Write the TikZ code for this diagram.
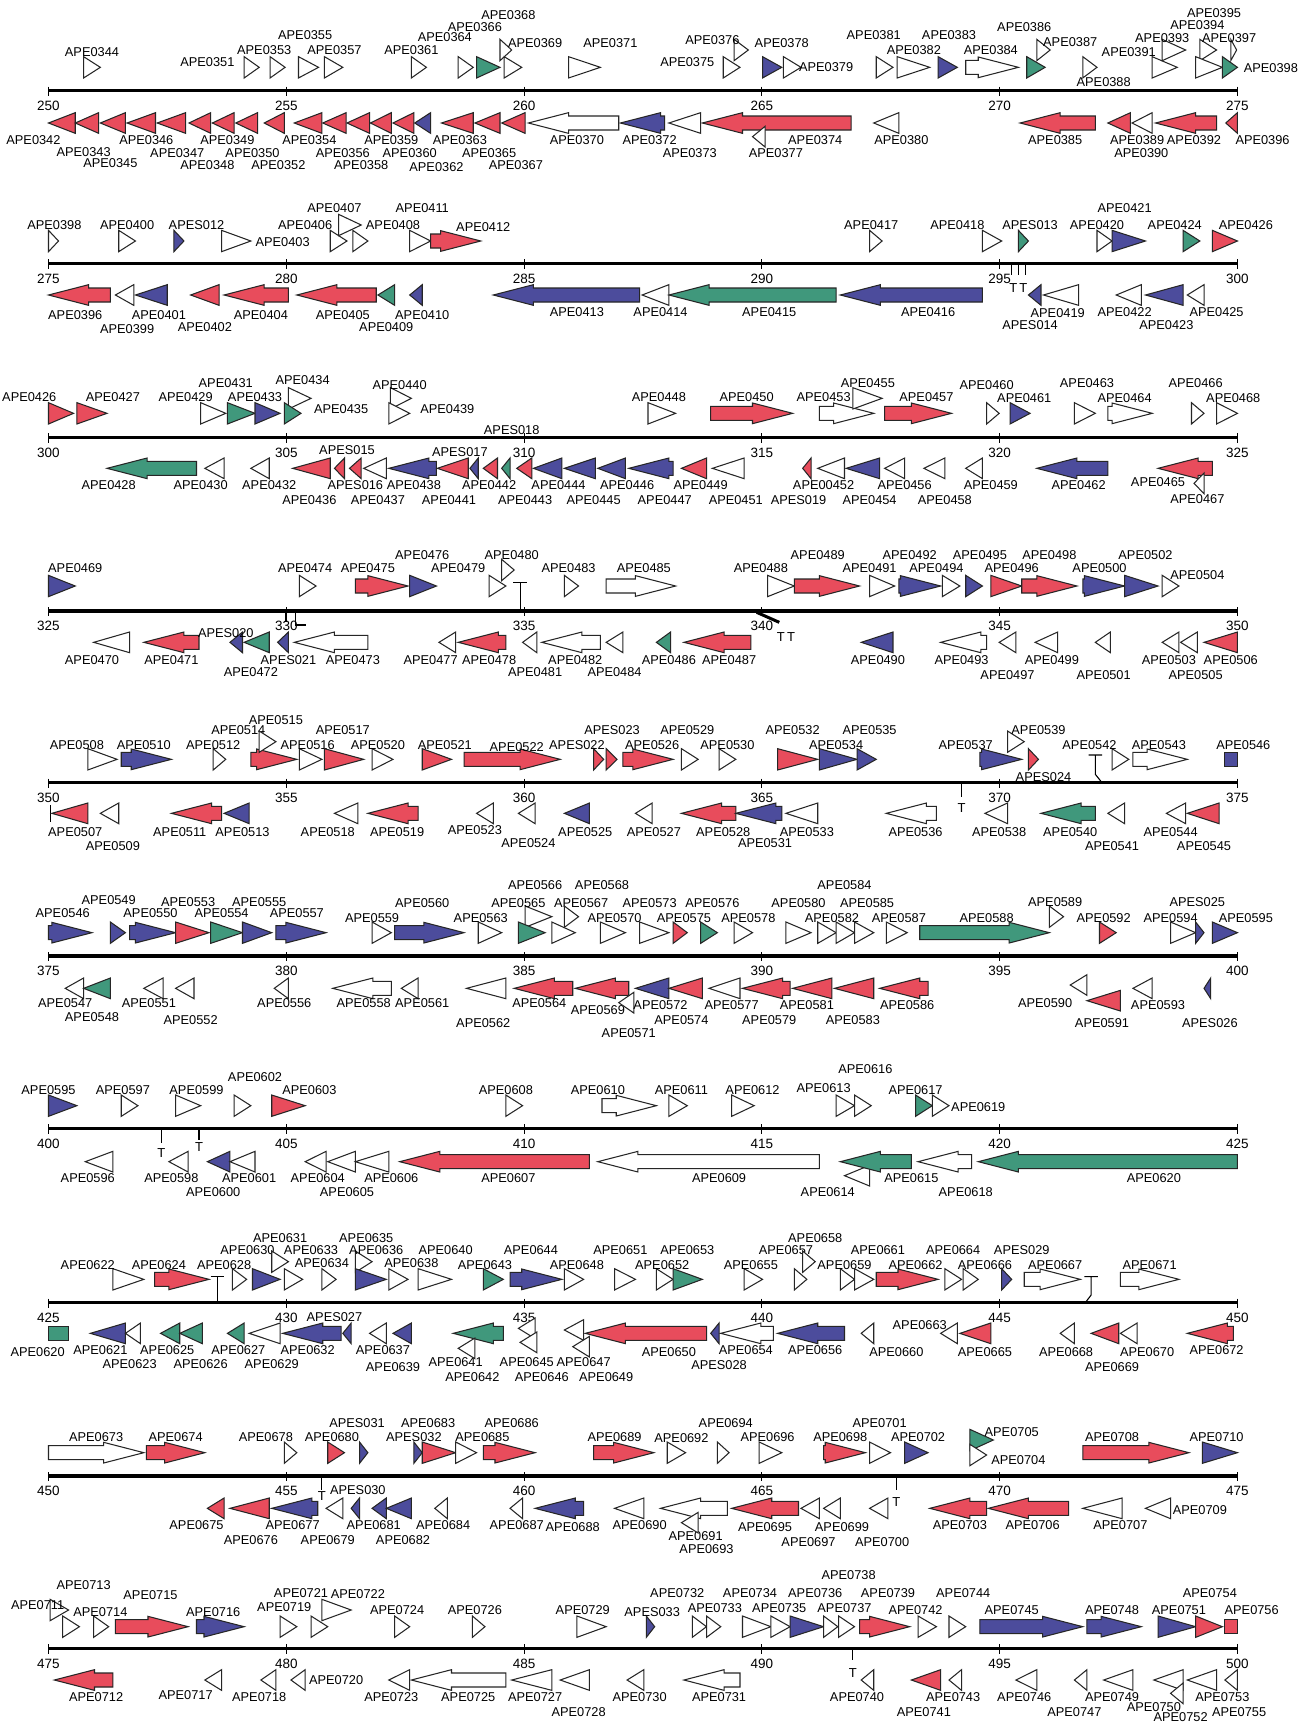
\documentclass[tikz,border=0pt]{standalone}
\usepackage{fontspec}
\setmainfont{Liberation Sans}
\definecolor{cR}{RGB}{232,76,92}
\definecolor{cB}{RGB}{76,76,156}
\definecolor{cG}{RGB}{64,152,124}
\definecolor{cW}{RGB}{255,255,255}
\tikzset{
  gene/.style={draw=black!85,line width=1.05pt,line join=miter},
  lab/.style={font=\fontsize{12.8}{13}\selectfont,inner sep=0pt},
  ticklab/.style={font=\fontsize{13.5}{14}\selectfont,inner sep=0pt},
  axisline/.style={line width=3.2pt},
  termtext/.style={font=\fontsize{13}{13}\selectfont,inner sep=0pt},
  termline/.style={line width=1.1pt}
}
\newcommand\hdl{48}
\newcommand\FG[4][\dfy]{%
  \pgfmathtruncatemacro\gtmp{(#3-#2)>\hdl?1:0}%
  \ifnum\gtmp=1\relax
    \draw[gene,fill=#4] (#2,{#1-21}) -- ({#3-\hdl},{#1-21}) -- ({#3-\hdl},{#1-31}) -- (#3,#1) -- ({#3-\hdl},{#1+31}) -- ({#3-\hdl},{#1+21}) -- (#2,{#1+21}) -- cycle;
  \else
    \draw[gene,fill=#4] (#2,{#1-32}) -- (#3,#1) -- (#2,{#1+32}) -- cycle;
  \fi}
\newcommand\RG[4][\dry]{%
  \pgfmathtruncatemacro\gtmp{(#3-#2)>\hdl?1:0}%
  \ifnum\gtmp=1\relax
    \draw[gene,fill=#4] (#3,{#1-21}) -- ({#2+\hdl},{#1-21}) -- ({#2+\hdl},{#1-31}) -- (#2,#1) -- ({#2+\hdl},{#1+31}) -- ({#2+\hdl},{#1+21}) -- (#3,{#1+21}) -- cycle;
  \else
    \draw[gene,fill=#4] (#3,{#1-31}) -- (#2,#1) -- (#3,{#1+31}) -- cycle;
  \fi}
\newcommand\Bx[4]{\draw[gene,fill=#4] (#1,{#3-21}) rectangle (#2,{#3+21});}
\newcommand\Lb[3]{\node[lab] (r\rown-#3) at (#1,#2) {#3};}
\newcommand\axisrow[2]{%
  \draw[axisline] (58,#1) -- (1480,#1);
  \foreach \i in {0,...,5}{%
    \draw[termline] ({58+284.4*\i},{#1-12}) -- ({58+284.4*\i},{#1+16});
    \pgfmathtruncatemacro\v{#2+5*\i}
    \node[ticklab] (tk\rown-\i) at ({58+284.4*\i},{#1+46}) {\v};}}
\newcommand\Tm[3]{\node[termtext] (t\rown-#3) at (#1,#2) {T};}
\begin{document}
\begin{tikzpicture}[x=0.83612pt,y=-1pt]
\useasboundingbox (0,0) rectangle (1559.6,1727);
\fill[white] (0,0) rectangle (1559.6,1727);

% ---------------- Row 1 ----------------
\begin{scope}[shift={(0,0)},y={(0pt,-0.33333pt)}]
\def\rown{1}\def\dfy{202}\def\dry{369}\def\dfu{150}\def\drl{410}
\axisrow{272}{250}
\FG{100}{120}{cW}\Lb{110}{155}{APE0344}
\FG{292}{310}{cW}\Lb{248}{185}{APE0351}
\FG{323}{341}{cW}\Lb{316}{150}{APE0353}
\FG{357}{381}{cW}\Lb{365}{105}{APE0355}
\FG{388}{410}{cW}\Lb{400}{150}{APE0357}
\FG{492}{510}{cW}\Lb{492}{150}{APE0361}
\FG{548}{566}{cW}\Lb{532}{112}{APE0364}
\FG{570}{598}{cG}\Lb{568}{80}{APE0366}
\FG[\dfu]{598}{612}{cW}\Lb{608}{45}{APE0368}
\FG{603}{624}{cW}\Lb{640}{130}{APE0369}
\FG{680}{718}{cW}\Lb{730}{130}{APE0371}
\FG{865}{885}{cW}\Lb{822}{185}{APE0375}
\FG[\dfu]{878}{895}{cW}\Lb{852}{120}{APE0376}
\FG{912}{935}{cB}\Lb{935}{130}{APE0378}
\FG{937}{958}{cW}\Lb{988}{200}{APE0379}
\FG{1048}{1068}{cW}\Lb{1045}{105}{APE0381}
\FG{1073}{1112}{cW}\Lb{1093}{150}{APE0382}
\FG{1122}{1145}{cB}\Lb{1135}{105}{APE0383}
\FG{1155}{1218}{cW}\Lb{1185}{150}{APE0384}
\FG{1228}{1250}{cG}\Lb{1225}{80}{APE0386}
\FG[\dfu]{1240}{1256}{cW}\Lb{1280}{125}{APE0387}
\FG{1295}{1312}{cW}\Lb{1320}{245}{APE0388}
\FG{1378}{1408}{cW}\Lb{1350}{155}{APE0391}
\FG[\dfu]{1390}{1418}{cW}\Lb{1390}{115}{APE0393}
\FG[\dfu]{1435}{1455}{cW}\Lb{1432}{75}{APE0394}
\FG{1430}{1462}{cW}\Lb{1452}{40}{APE0395}
\FG[\dfu]{1472}{1479}{cW}\Lb{1470}{115}{APE0397}
\FG{1462}{1480}{cG}\Lb{1520}{205}{APE0398}
\RG{58}{90}{cR}\Lb{40}{420}{APE0342}
\RG{90}{118}{cR}\Lb{100}{455}{APE0343}
\RG{120}{150}{cR}\Lb{132}{490}{APE0345}
\RG{152}{186}{cR}\Lb{175}{420}{APE0346}
\RG{188}{222}{cR}\Lb{212}{460}{APE0347}
\RG{226}{252}{cR}\Lb{248}{495}{APE0348}
\RG{254}{280}{cR}\Lb{272}{420}{APE0349}
\RG{282}{308}{cR}\Lb{302}{460}{APE0350}
\RG{316}{340}{cR}\Lb{333}{495}{APE0352}
\RG{352}{385}{cR}\Lb{370}{420}{APE0354}
\RG{386}{414}{cR}\Lb{410}{460}{APE0356}
\RG{415}{442}{cR}\Lb{432}{495}{APE0358}
\RG{443}{468}{cR}\Lb{468}{420}{APE0359}
\RG{470}{495}{cR}\Lb{490}{460}{APE0360}
\RG{496}{515}{cB}\Lb{522}{500}{APE0362}
\RG{528}{566}{cR}\Lb{550}{420}{APE0363}
\RG{568}{598}{cR}\Lb{585}{460}{APE0365}
\RG{600}{628}{cR}\Lb{617}{495}{APE0367}
\RG{632}{740}{cW}\Lb{690}{420}{APE0370}
\RG{742}{795}{cB}\Lb{777}{420}{APE0372}
\RG{800}{838}{cW}\Lb{825}{460}{APE0373}
\RG{840}{1018}{cR}\Lb{975}{420}{APE0374}
\RG[\drl]{900}{915}{cW}\Lb{928}{460}{APE0377}
\RG{1045}{1075}{cW}\Lb{1078}{420}{APE0380}
\RG{1220}{1310}{cR}\Lb{1262}{420}{APE0385}
\RG{1325}{1352}{cR}\Lb{1360}{420}{APE0389}
\RG{1354}{1378}{cW}\Lb{1365}{460}{APE0390}
\RG{1382}{1455}{cR}\Lb{1428}{420}{APE0392}
\RG{1466}{1480}{cR}\Lb{1510}{420}{APE0396}
\end{scope}

% ---------------- Row 2 ----------------
\begin{scope}[shift={(0,175)},y={(0pt,-0.33333pt)}]
\def\rown{2}\def\dfy{198}\def\dry{360}\def\dfu{150}\def\drl{400}
\axisrow{265}{275}
\FG{58}{70}{cW}\Lb{65}{150}{APE0398}
\FG{142}{162}{cW}\Lb{152}{150}{APE0400}
\FG{208}{220}{cB}\Lb{235}{150}{APES012}
\FG{265}{300}{cW}\Lb{338}{200}{APE0403}
\FG{395}{415}{cW}\Lb{365}{150}{APE0406}
\FG[\dfu]{405}{432}{cW}\Lb{400}{100}{APE0407}
\FG{422}{440}{cW}\Lb{470}{150}{APE0408}
\FG{490}{515}{cW}\Lb{505}{100}{APE0411}
\FG{515}{575}{cR}\Lb{578}{155}{APE0412}
\FG{1040}{1055}{cW}\Lb{1042}{150}{APE0417}
\FG{1175}{1198}{cW}\Lb{1145}{150}{APE0418}
\FG{1218}{1230}{cG}\Lb{1232}{150}{APES013}
\FG{1312}{1330}{cW}\Lb{1312}{150}{APE0420}
\FG{1330}{1370}{cB}\Lb{1345}{100}{APE0421}
\FG{1415}{1435}{cG}\Lb{1405}{150}{APE0424}
\FG{1450}{1480}{cR}\Lb{1490}{150}{APE0426}
\RG{58}{132}{cR}\Lb{90}{420}{APE0396}
\RG{138}{160}{cW}\Lb{152}{462}{APE0399}
\RG{162}{200}{cB}\Lb{190}{420}{APE0401}
\RG{228}{262}{cR}\Lb{245}{455}{APE0402}
\RG{268}{345}{cR}\Lb{312}{420}{APE0404}
\RG{355}{450}{cR}\Lb{410}{420}{APE0405}
\RG{452}{472}{cG}\Lb{462}{455}{APE0409}
\RG{490}{505}{cB}\Lb{505}{420}{APE0410}
\RG{590}{765}{cB}\Lb{690}{410}{APE0413}
\RG{768}{800}{cW}\Lb{790}{410}{APE0414}
\RG{800}{1000}{cG}\Lb{920}{410}{APE0415}
\RG{1005}{1175}{cB}\Lb{1110}{410}{APE0416}
\RG{1230}{1245}{cB}\Lb{1232}{450}{APES014}
\RG{1248}{1290}{cW}\Lb{1265}{415}{APE0419}
\RG{1335}{1365}{cW}\Lb{1345}{410}{APE0422}
\RG{1370}{1415}{cB}\Lb{1395}{450}{APE0423}
\RG{1420}{1440}{cW}\Lb{1455}{410}{APE0425}
\draw[termline] (1210,265) -- (1210,300) (1218,265) -- (1218,300) (1226,265) -- (1226,300);
\Tm{1212}{338}{a}\Tm{1224}{338}{b}
\end{scope}

% ---------------- Row 3 ----------------
\begin{scope}[shift={(0,350)},y={(0pt,-0.33333pt)}]
\def\rown{3}\def\dfy{190}\def\dry{355}\def\dfu{145}\def\drl{400}
\axisrow{262}{300}
\FG{58}{88}{cR}\Lb{35}{140}{APE0426}
\FG{92}{128}{cR}\Lb{135}{140}{APE0427}
\FG{240}{270}{cW}\Lb{222}{140}{APE0429}
\FG{272}{305}{cG}\Lb{270}{100}{APE0431}
\FG{305}{335}{cB}\Lb{305}{140}{APE0433}
\FG[\dfu]{345}{372}{cW}\Lb{362}{90}{APE0434}
\FG{340}{360}{cG}\Lb{408}{178}{APE0435}
\FG[\dfu]{467}{492}{cW}\Lb{478}{105}{APE0440}
\FG{465}{490}{cW}\Lb{535}{178}{APE0439}
\FG{775}{808}{cW}\Lb{788}{140}{APE0448}
\FG{850}{948}{cR}\Lb{893}{140}{APE0450}
\FG{980}{1045}{cW}\Lb{985}{140}{APE0453}
\FG[\dfu]{1020}{1055}{cW}\Lb{1038}{100}{APE0455}
\FG{1058}{1138}{cR}\Lb{1108}{140}{APE0457}
\FG{1180}{1195}{cW}\Lb{1180}{105}{APE0460}
\FG{1208}{1232}{cB}\Lb{1225}{145}{APE0461}
\FG{1285}{1310}{cW}\Lb{1300}{100}{APE0463}
\FG{1325}{1378}{cW}\Lb{1345}{145}{APE0464}
\FG{1425}{1440}{cW}\Lb{1430}{100}{APE0466}
\FG{1455}{1480}{cW}\Lb{1475}{145}{APE0468}
\Lb{612}{240}{APES018}
\RG{128}{235}{cG}\Lb{130}{405}{APE0428}
\RG{245}{268}{cW}\Lb{240}{405}{APE0430}
\RG{300}{322}{cW}\Lb{322}{405}{APE0432}
\RG{350}{395}{cR}\Lb{370}{450}{APE0436}
\RG{400}{412}{cR}\Lb{415}{300}{APES015}
\RG{418}{432}{cR}\Lb{425}{405}{APES016}
\RG{435}{462}{cW}\Lb{452}{450}{APE0437}
\RG{465}{522}{cB}\Lb{495}{405}{APE0438}
\RG{523}{560}{cR}\Lb{537}{450}{APE0441}
\RG{562}{572}{cB}\Lb{550}{305}{APES017}
\RG{578}{595}{cR}\Lb{585}{405}{APE0442}
\RG{600}{610}{cG}
\RG{618}{636}{cR}\Lb{628}{450}{APE0443}
\RG{638}{672}{cB}\Lb{668}{405}{APE0444}
\RG{675}{712}{cB}\Lb{710}{450}{APE0445}
\RG{715}{748}{cB}\Lb{750}{405}{APE0446}
\RG{752}{805}{cB}\Lb{795}{450}{APE0447}
\RG{815}{845}{cR}\Lb{838}{405}{APE0449}
\RG{852}{890}{cW}\Lb{880}{450}{APE0451}
\RG{960}{970}{cR}\Lb{955}{450}{APES019}
\RG{978}{1010}{cW}\Lb{985}{405}{APE00452}
\RG{1012}{1052}{cB}\Lb{1040}{450}{APE0454}
\RG{1058}{1082}{cW}\Lb{1082}{405}{APE0456}
\RG{1105}{1130}{cW}\Lb{1130}{450}{APE0458}
\RG{1155}{1175}{cW}\Lb{1185}{405}{APE0459}
\RG{1240}{1325}{cB}\Lb{1290}{405}{APE0462}
\RG{1385}{1450}{cR}\Lb{1385}{397}{APE0465}
\RG[\drl]{1428}{1440}{cW}\Lb{1432}{447}{APE0467}
\end{scope}

% ---------------- Row 4 ----------------
\begin{scope}[shift={(0,525)},y={(0pt,-0.33333pt)}]
\def\rown{4}\def\dfy{183}\def\dry{352}\def\dfu{135}\def\drl{395}
\axisrow{258}{325}
\FG{58}{90}{cB}\Lb{90}{130}{APE0469}
\FG{358}{378}{cW}\Lb{365}{130}{APE0474}
\FG{425}{488}{cR}\Lb{440}{130}{APE0475}
\FG{490}{522}{cB}\Lb{505}{90}{APE0476}
\FG{585}{605}{cW}\Lb{548}{130}{APE0479}
\FG[\dfu]{600}{615}{cW}\Lb{612}{90}{APE0480}
\draw[termline] (622,258) -- (622,172) (614,172) -- (630,172);
\FG{675}{692}{cW}\Lb{680}{130}{APE0483}
\FG{725}{808}{cW}\Lb{770}{130}{APE0485}
\FG{918}{950}{cW}\Lb{910}{130}{APE0488}
\FG{950}{1028}{cR}\Lb{978}{90}{APE0489}
\FG{1040}{1070}{cW}\Lb{1040}{130}{APE0491}
\FG{1075}{1125}{cB}\Lb{1088}{90}{APE0492}
\FG{1127}{1148}{cW}\Lb{1120}{130}{APE0494}
\FG{1155}{1175}{cB}\Lb{1172}{90}{APE0495}
\FG{1185}{1222}{cR}\Lb{1210}{130}{APE0496}
\FG{1222}{1288}{cR}\Lb{1255}{90}{APE0498}
\FG{1295}{1345}{cB}\Lb{1315}{130}{APE0500}
\FG{1345}{1385}{cB}\Lb{1370}{90}{APE0502}
\FG{1390}{1410}{cW}\Lb{1432}{150}{APE0504}
\RG{112}{155}{cW}\Lb{110}{405}{APE0470}
\RG{172}{238}{cR}\Lb{205}{405}{APE0471}
\RG{275}{290}{cB}\Lb{270}{325}{APES020}
\RG{292}{322}{cG}\Lb{300}{440}{APE0472}
\RG{332}{345}{cB}\Lb{345}{405}{APES021}
\RG{352}{440}{cW}\Lb{422}{405}{APE0473}
\draw[termline] (342,258) -- (342,290) (353,258) -- (353,300) -- (366,300);
\RG{525}{545}{cW}\Lb{515}{405}{APE0477}
\RG{548}{605}{cR}\Lb{585}{405}{APE0478}
\RG{625}{642}{cW}\Lb{640}{440}{APE0481}
\RG{648}{718}{cW}\Lb{688}{405}{APE0482}
\RG{725}{745}{cW}\Lb{735}{440}{APE0484}
\RG{785}{802}{cG}\Lb{800}{405}{APE0486}
\RG{818}{898}{cR}\Lb{872}{405}{APE0487}
\draw[line width=3pt] (905,262) -- (932,292);
\Tm{934}{335}{a}\Tm{946}{335}{b}
\RG{1030}{1068}{cB}\Lb{1050}{405}{APE0490}
\RG{1125}{1180}{cW}\Lb{1150}{405}{APE0493}
\RG{1195}{1215}{cW}\Lb{1205}{450}{APE0497}
\RG{1238}{1265}{cW}\Lb{1258}{405}{APE0499}
\RG{1310}{1328}{cW}\Lb{1320}{450}{APE0501}
\RG{1390}{1410}{cW}\Lb{1398}{405}{APE0503}
\RG{1412}{1432}{cW}\Lb{1430}{450}{APE0505}
\RG{1440}{1480}{cR}\Lb{1472}{405}{APE0506}
\end{scope}

% ---------------- Row 5 ----------------
\begin{scope}[shift={(0,695)},y={(0pt,-0.33333pt)}]
\def\rown{5}\def\dfy{193}\def\dry{355}\def\dfu{140}\def\drl{400}
\axisrow{263}{350}
\FG{105}{140}{cW}\Lb{92}{150}{APE0508}
\FG{145}{205}{cB}\Lb{172}{150}{APE0510}
\FG{255}{270}{cW}\Lb{255}{150}{APE0512}
\FG{300}{355}{cR}\Lb{285}{105}{APE0514}
\FG[\dfu]{310}{330}{cW}\Lb{330}{75}{APE0515}
\FG{358}{385}{cW}\Lb{368}{150}{APE0516}
\FG{388}{435}{cR}\Lb{410}{105}{APE0517}
\FG{445}{470}{cW}\Lb{452}{150}{APE0520}
\FG{505}{540}{cR}\Lb{532}{150}{APE0521}
\FG{555}{670}{cR}\Lb{618}{155}{APE0522}
\FG{710}{722}{cR}\Lb{690}{150}{APES022}
\FG{725}{738}{cR}\Lb{732}{105}{APES023}
\FG{745}{805}{cR}\Lb{780}{150}{APE0526}
\FG{815}{835}{cW}\Lb{822}{105}{APE0529}
\FG{860}{880}{cW}\Lb{870}{150}{APE0530}
\FG{930}{978}{cR}\Lb{948}{105}{APE0532}
\FG{980}{1025}{cB}\Lb{1000}{150}{APE0534}
\FG{1025}{1048}{cB}\Lb{1040}{105}{APE0535}
\FG{1172}{1222}{cB}\Lb{1155}{150}{APE0537}
\FG[\dfu]{1205}{1225}{cW}\Lb{1242}{105}{APE0539}
\FG{1230}{1242}{cR}\Lb{1248}{245}{APES024}
\draw[termline] (1318,263) -- (1310,238) -- (1310,180) (1302,180) -- (1318,180);
\FG{1330}{1350}{cW}\Lb{1303}{150}{APE0542}
\FG{1355}{1420}{cW}\Lb{1386}{150}{APE0543}
\Bx{1465}{1480}{\dfy}{cB}\Lb{1487}{150}{APE0546}
\draw[termline] (60,330) -- (60,382);
\RG{62}{105}{cR}\Lb{90}{410}{APE0507}
\RG{120}{142}{cW}\Lb{135}{452}{APE0509}
\RG{205}{265}{cR}\Lb{215}{410}{APE0511}
\RG{268}{298}{cB}\Lb{290}{410}{APE0513}
\RG{400}{428}{cW}\Lb{392}{410}{APE0518}
\RG{440}{500}{cR}\Lb{475}{410}{APE0519}
\RG{570}{590}{cW}\Lb{568}{405}{APE0523}
\RG{620}{640}{cW}\Lb{632}{445}{APE0524}
\RG{675}{705}{cB}\Lb{700}{410}{APE0525}
\RG{760}{780}{cW}\Lb{782}{410}{APE0527}
\RG{815}{880}{cR}\Lb{865}{410}{APE0528}
\RG{880}{935}{cB}\Lb{915}{445}{APE0531}
\RG{940}{978}{cW}\Lb{965}{410}{APE0533}
\RG{1060}{1120}{cW}\Lb{1095}{410}{APE0536}
\draw[termline] (1150,263) -- (1150,305);
\Tm{1150}{338}{a}
\RG{1178}{1205}{cW}\Lb{1195}{410}{APE0538}
\RG{1245}{1310}{cG}\Lb{1280}{410}{APE0540}
\RG{1325}{1345}{cW}\Lb{1330}{452}{APE0541}
\RG{1395}{1418}{cW}\Lb{1400}{410}{APE0544}
\RG{1420}{1458}{cR}\Lb{1440}{452}{APE0545}
\end{scope}

% ---------------- Row 6 ----------------
\begin{scope}[shift={(0,870)},y={(0pt,-0.33333pt)}]
\def\rown{6}\def\dfy{188}\def\dry{355}\def\dfu{140}\def\drl{398}
\axisrow{258}{375}
\FG{58}{110}{cB}\Lb{75}{130}{APE0546}
\FG{132}{150}{cB}\Lb{130}{90}{APE0549}
\FG{155}{210}{cB}\Lb{180}{130}{APE0550}
\FG{210}{250}{cR}\Lb{225}{95}{APE0553}
\FG{252}{290}{cG}\Lb{265}{130}{APE0554}
\FG{290}{325}{cB}\Lb{310}{95}{APE0555}
\FG{330}{390}{cB}\Lb{355}{130}{APE0557}
\FG{445}{468}{cW}\Lb{445}{145}{APE0559}
\FG{472}{555}{cB}\Lb{505}{100}{APE0560}
\FG{572}{600}{cW}\Lb{575}{145}{APE0563}
\FG[\dfu]{628}{660}{cW}\Lb{640}{45}{APE0566}
\FG{620}{652}{cG}\Lb{620}{100}{APE0565}
\FG{660}{688}{cW}\Lb{695}{100}{APE0567}
\FG[\dfu]{675}{692}{cW}\Lb{720}{45}{APE0568}
\FG{718}{748}{cW}\Lb{735}{145}{APE0570}
\FG{765}{800}{cW}\Lb{777}{100}{APE0573}
\FG{805}{822}{cR}\Lb{818}{145}{APE0575}
\FG{838}{858}{cG}\Lb{852}{100}{APE0576}
\FG{878}{900}{cW}\Lb{895}{145}{APE0578}
\FG{940}{970}{cW}\Lb{955}{100}{APE0580}
\FG{978}{1000}{cW}\Lb{995}{145}{APE0582}
\FG{1000}{1022}{cW}\Lb{1010}{45}{APE0584}
\FG{1022}{1045}{cW}\Lb{1037}{100}{APE0585}
\FG{1060}{1085}{cW}\Lb{1075}{145}{APE0587}
\FG{1100}{1255}{cG}\Lb{1180}{145}{APE0588}
\FG[\dfu]{1255}{1272}{cW}\Lb{1262}{95}{APE0589}
\FG{1315}{1335}{cR}\Lb{1320}{145}{APE0592}
\FG{1400}{1430}{cW}\Lb{1400}{145}{APE0594}
\FG{1430}{1440}{cB}\Lb{1432}{95}{APES025}
\FG{1450}{1480}{cB}\Lb{1490}{145}{APE0595}
\RG{78}{100}{cW}\Lb{78}{400}{APE0547}
\RG{100}{132}{cG}\Lb{110}{440}{APE0548}
\RG{172}{195}{cW}\Lb{178}{400}{APE0551}
\RG{210}{232}{cW}\Lb{228}{450}{APE0552}
\RG{328}{345}{cW}\Lb{340}{400}{APE0556}
\RG{398}{468}{cW}\Lb{435}{400}{APE0558}
\RG{480}{500}{cW}\Lb{505}{400}{APE0561}
\RG{558}{605}{cW}\Lb{578}{460}{APE0562}
\RG{615}{685}{cR}\Lb{645}{400}{APE0564}
\RG{688}{752}{cR}\Lb{715}{420}{APE0569}
\RG[\drl]{740}{758}{cW}\Lb{752}{490}{APE0571}
\RG{760}{800}{cB}\Lb{790}{405}{APE0572}
\RG{800}{840}{cR}\Lb{815}{450}{APE0574}
\RG{848}{885}{cW}\Lb{875}{405}{APE0577}
\RG{888}{945}{cR}\Lb{920}{450}{APE0579}
\RG{948}{995}{cR}\Lb{965}{405}{APE0581}
\RG{998}{1045}{cR}\Lb{1020}{450}{APE0583}
\RG{1052}{1110}{cR}\Lb{1085}{405}{APE0586}
\RG[345]{1280}{1300}{cW}\Lb{1250}{400}{APE0590}
\RG[392]{1300}{1340}{cR}\Lb{1318}{460}{APE0591}
\RG{1355}{1378}{cW}\Lb{1385}{405}{APE0593}
\RG{1440}{1448}{cB}\Lb{1447}{460}{APES026}
\end{scope}

% ---------------- Row 7 ----------------
\begin{scope}[shift={(0,1045)},y={(0pt,-0.33333pt)}]
\def\rown{7}\def\dfy{182}\def\dry{350}\def\dfu{135}\def\drl{392}
\axisrow{250}{400}
\FG{58}{92}{cB}\Lb{58}{135}{APE0595}
\FG{145}{165}{cW}\Lb{147}{135}{APE0597}
\FG{210}{240}{cW}\Lb{235}{135}{APE0599}
\FG{280}{300}{cW}\Lb{305}{95}{APE0602}
\FG{325}{365}{cR}\Lb{370}{135}{APE0603}
\FG{605}{625}{cW}\Lb{605}{135}{APE0608}
\FG{720}{785}{cW}\Lb{715}{135}{APE0610}
\FG{800}{822}{cW}\Lb{815}{135}{APE0611}
\FG{875}{902}{cW}\Lb{900}{135}{APE0612}
\FG{1000}{1022}{cW}\Lb{985}{130}{APE0613}
\FG{1022}{1042}{cW}\Lb{1035}{72}{APE0616}
\FG{1095}{1115}{cG}\Lb{1095}{135}{APE0617}
\FG{1115}{1135}{cW}\Lb{1170}{185}{APE0619}
\RG{102}{135}{cW}\Lb{105}{400}{APE0596}
\draw[termline] (193,250) -- (193,295) (238,250) -- (238,285);
\Tm{193}{325}{a}\Tm{238}{305}{b}
\RG{202}{225}{cW}\Lb{205}{400}{APE0598}
\RG{248}{275}{cB}\Lb{255}{440}{APE0600}
\RG{275}{305}{cW}\Lb{298}{400}{APE0601}
\RG{365}{390}{cW}\Lb{380}{400}{APE0604}
\RG{392}{425}{cW}\Lb{415}{440}{APE0605}
\RG{425}{465}{cW}\Lb{468}{400}{APE0606}
\RG{478}{705}{cR}\Lb{608}{400}{APE0607}
\RG{715}{980}{cW}\Lb{860}{400}{APE0609}
\RG[\drl]{1010}{1040}{cW}\Lb{990}{440}{APE0614}
\RG{1005}{1090}{cG}\Lb{1090}{400}{APE0615}
\RG{1098}{1162}{cW}\Lb{1155}{440}{APE0618}
\RG{1170}{1480}{cG}\Lb{1380}{400}{APE0620}
\end{scope}

% ---------------- Row 8 ----------------
\begin{scope}[shift={(0,1215)},y={(0pt,-0.33333pt)}]
\def\rown{8}\def\dfy{193}\def\dry{355}\def\dfu{140}\def\drl{400}
\axisrow{263}{425}
\FG{135}{172}{cW}\Lb{105}{150}{APE0622}
\FG{185}{250}{cR}\Lb{190}{150}{APE0624}
\draw[termline] (260,263) -- (260,185) (252,185) -- (268,185);
\FG{278}{295}{cW}\Lb{268}{150}{APE0628}
\FG{302}{335}{cB}\Lb{296}{105}{APE0630}
\FG[\dfu]{325}{345}{cW}\Lb{335}{70}{APE0631}
\FG{340}{362}{cW}\Lb{372}{105}{APE0633}
\FG{385}{402}{cW}\Lb{385}{145}{APE0634}
\FG[\dfu]{425}{445}{cW}\Lb{438}{70}{APE0635}
\FG{425}{462}{cB}\Lb{450}{105}{APE0636}
\FG{465}{488}{cW}\Lb{492}{145}{APE0638}
\FG{500}{540}{cW}\Lb{533}{105}{APE0640}
\FG{578}{602}{cG}\Lb{580}{150}{APE0643}
\FG{610}{672}{cB}\Lb{635}{105}{APE0644}
\FG{675}{698}{cW}\Lb{690}{150}{APE0648}
\FG{735}{760}{cW}\Lb{742}{105}{APE0651}
\FG{785}{805}{cW}\Lb{792}{150}{APE0652}
\FG{805}{840}{cG}\Lb{822}{105}{APE0653}
\FG{890}{912}{cW}\Lb{898}{150}{APE0655}
\FG{950}{965}{cW}\Lb{940}{105}{APE0657}
\FG[\dfu]{960}{975}{cW}\Lb{975}{70}{APE0658}
\FG{1005}{1022}{cW}\Lb{1010}{150}{APE0659}
\FG{1022}{1045}{cW}\Lb{1050}{105}{APE0661}
\FG{1048}{1122}{cR}\Lb{1095}{150}{APE0662}
\FG{1130}{1150}{cW}\Lb{1140}{105}{APE0664}
\FG{1152}{1170}{cW}\Lb{1178}{150}{APE0666}
\FG{1198}{1210}{cB}\Lb{1222}{105}{APES029}
\FG{1225}{1292}{cW}\Lb{1262}{150}{APE0667}
\draw[termline] (1298,263) -- (1305,240) -- (1305,185) (1297,185) -- (1313,185);
\FG{1340}{1410}{cW}\Lb{1375}{150}{APE0671}
\Bx{58}{82}{\dry}{cG}\Lb{45}{410}{APE0620}
\RG{108}{150}{cB}\Lb{120}{405}{APE0621}
\RG{150}{168}{cW}\Lb{155}{448}{APE0623}
\RG{192}{215}{cG}\Lb{200}{405}{APE0625}
\RG{215}{242}{cG}\Lb{240}{448}{APE0626}
\RG{272}{292}{cG}\Lb{285}{405}{APE0627}
\RG{298}{335}{cW}\Lb{325}{448}{APE0629}
\RG{338}{408}{cB}\Lb{368}{405}{APE0632}
\RG{410}{420}{cB}\Lb{400}{305}{APES027}
\RG{442}{462}{cW}\Lb{458}{405}{APE0637}
\RG{470}{492}{cB}\Lb{470}{455}{APE0639}
\RG{542}{602}{cG}\Lb{545}{440}{APE0641}
\RG[\drl]{548}{568}{cW}\Lb{565}{485}{APE0642}
\RG[340]{620}{640}{cW}
\RG[382]{622}{642}{cW}\Lb{630}{440}{APE0645}\Lb{648}{485}{APE0646}
\RG[345]{675}{698}{cW}\Lb{698}{440}{APE0647}
\RG[395]{685}{705}{cW}\Lb{725}{485}{APE0649}
\RG{700}{845}{cR}\Lb{800}{410}{APE0650}
\RG{850}{860}{cB}\Lb{860}{450}{APES028}
\RG{862}{925}{cW}\Lb{892}{405}{APE0654}
\RG{930}{1010}{cB}\Lb{975}{405}{APE0656}
\RG{1030}{1045}{cW}\Lb{1072}{410}{APE0660}
\RG{1125}{1145}{cW}\Lb{1100}{330}{APE0663}
\RG{1148}{1185}{cR}\Lb{1178}{410}{APE0665}
\RG{1268}{1285}{cW}\Lb{1275}{410}{APE0668}
\RG{1305}{1338}{cR}\Lb{1330}{455}{APE0669}
\RG{1340}{1360}{cW}\Lb{1372}{410}{APE0670}
\RG{1420}{1475}{cR}\Lb{1455}{405}{APE0672}
\end{scope}

% ---------------- Row 9 ----------------
\begin{scope}[shift={(0,1390)},y={(0pt,-0.33333pt)}]
\def\rown{9}\def\dfy{188}\def\dry{355}\def\dfu{150}\def\drl{398}
\axisrow{258}{450}
\FG{58}{172}{cW}\Lb{115}{140}{APE0673}
\FG{175}{245}{cR}\Lb{210}{140}{APE0674}
\FG{340}{355}{cW}\Lb{318}{140}{APE0678}
\FG{392}{412}{cR}\Lb{397}{140}{APE0680}
\FG{430}{440}{cB}\Lb{427}{100}{APES031}
\FG{495}{505}{cB}\Lb{495}{140}{APES032}
\FG{505}{545}{cR}\Lb{512}{100}{APE0683}
\FG{545}{570}{cW}\Lb{577}{140}{APE0685}
\FG{578}{640}{cR}\Lb{612}{100}{APE0686}
\FG{710}{782}{cR}\Lb{735}{140}{APE0689}
\FG{798}{820}{cW}\Lb{815}{145}{APE0692}
\FG{858}{872}{cW}\Lb{868}{100}{APE0694}
\FG{908}{935}{cW}\Lb{918}{140}{APE0696}
\FG{985}{1035}{cR}\Lb{1005}{140}{APE0698}
\FG{1040}{1065}{cW}\Lb{1052}{100}{APE0701}
\FG{1082}{1110}{cB}\Lb{1098}{140}{APE0702}
\FG[\dfu]{1160}{1188}{cG}\Lb{1210}{125}{APE0705}
\FG[195]{1160}{1180}{cW}\Lb{1218}{210}{APE0704}
\FG{1295}{1422}{cR}\Lb{1330}{140}{APE0708}
\FG{1438}{1480}{cB}\Lb{1455}{140}{APE0710}
\RG{248}{268}{cR}\Lb{235}{405}{APE0675}
\RG{275}{322}{cR}\Lb{300}{450}{APE0676}
\RG{325}{380}{cB}\Lb{350}{405}{APE0677}
\draw[termline] (385,258) -- (385,300);
\Tm{385}{318}{a}
\RG{390}{410}{cW}\Lb{392}{450}{APE0679}
\RG{420}{430}{cB}\Lb{428}{300}{APES030}
\RG{445}{462}{cB}\Lb{447}{405}{APE0681}
\RG{462}{492}{cB}\Lb{482}{450}{APE0682}
\RG{520}{535}{cW}\Lb{530}{405}{APE0684}
\RG{610}{625}{cW}\Lb{618}{405}{APE0687}
\RG{640}{698}{cB}\Lb{685}{410}{APE0688}
\RG{735}{770}{cW}\Lb{765}{405}{APE0690}
\RG{790}{870}{cW}\Lb{832}{438}{APE0691}
\RG[\drl]{815}{835}{cW}\Lb{845}{478}{APE0693}
\RG{875}{955}{cR}\Lb{915}{410}{APE0695}
\RG{958}{980}{cW}\Lb{967}{455}{APE0697}
\RG{985}{1005}{cW}\Lb{1007}{410}{APE0699}
\RG{1040}{1062}{cW}\Lb{1055}{455}{APE0700}
\draw[termline] (1072,258) -- (1072,300);
\Tm{1072}{335}{b}
\RG{1112}{1180}{cR}\Lb{1148}{405}{APE0703}
\RG{1182}{1278}{cR}\Lb{1235}{405}{APE0706}
\RG{1295}{1342}{cW}\Lb{1340}{405}{APE0707}
\RG{1370}{1400}{cW}\Lb{1435}{360}{APE0709}
\end{scope}

% ---------------- Row 10 ----------------
\begin{scope}[shift={(0,1560)},y={(0pt,-0.33333pt)}]
\def\rown{10}\def\dfy{200}\def\dry{360}\def\dfu{150}\def\drl{400}
\axisrow{265}{475}
\FG[\dfu]{60}{82}{cW}\Lb{45}{135}{APE0711}
\FG{75}{95}{cW}\Lb{100}{75}{APE0713}
\FG{112}{130}{cW}\Lb{120}{155}{APE0714}
\FG{138}{225}{cR}\Lb{180}{105}{APE0715}
\FG{235}{292}{cB}\Lb{255}{155}{APE0716}
\FG{335}{355}{cW}\Lb{340}{140}{APE0719}
\FG{372}{392}{cW}\Lb{360}{100}{APE0721}
\FG[\dfu]{385}{420}{cW}\Lb{428}{103}{APE0722}
\FG{472}{490}{cW}\Lb{475}{150}{APE0724}
\FG{565}{580}{cW}\Lb{568}{150}{APE0726}
\FG{690}{725}{cW}\Lb{697}{150}{APE0729}
\FG{773}{783}{cB}\Lb{780}{155}{APES033}
\FG{828}{845}{cW}\Lb{810}{100}{APE0732}
\FG{845}{862}{cW}\Lb{855}{145}{APE0733}
\FG{888}{922}{cW}\Lb{897}{100}{APE0734}
\FG{922}{945}{cW}\Lb{932}{145}{APE0735}
\FG{945}{985}{cB}\Lb{975}{100}{APE0736}
\FG{985}{1002}{cW}\Lb{1010}{145}{APE0737}
\FG{1003}{1022}{cW}\Lb{1015}{45}{APE0738}
\FG{1028}{1088}{cR}\Lb{1062}{100}{APE0739}
\FG{1098}{1120}{cW}\Lb{1095}{150}{APE0742}
\FG{1135}{1155}{cW}\Lb{1152}{100}{APE0744}
\FG{1172}{1295}{cB}\Lb{1210}{150}{APE0745}
\FG{1300}{1365}{cB}\Lb{1330}{150}{APE0748}
\FG{1385}{1430}{cB}\Lb{1410}{150}{APE0751}
\FG{1430}{1462}{cR}\Lb{1447}{100}{APE0754}
\Bx{1465}{1480}{\dfy}{cR}\Lb{1497}{150}{APE0756}
\RG{65}{135}{cR}\Lb{115}{412}{APE0712}
\RG{245}{265}{cW}\Lb{222}{405}{APE0717}
\RG{312}{330}{cW}\Lb{310}{412}{APE0718}
\RG{348}{365}{cW}\Lb{402}{360}{APE0720}
\RG{465}{490}{cW}\Lb{468}{410}{APE0723}
\RG{492}{605}{cW}\Lb{560}{410}{APE0725}
\RG{612}{660}{cW}\Lb{640}{410}{APE0727}
\RG{670}{705}{cW}\Lb{692}{455}{APE0728}
\RG{750}{770}{cW}\Lb{765}{410}{APE0730}
\RG{818}{885}{cW}\Lb{860}{410}{APE0731}
\draw[termline] (1020,265) -- (1020,300);
\Tm{1020}{338}{a}
\RG{1030}{1045}{cW}\Lb{1025}{410}{APE0740}
\RG{1090}{1125}{cR}\Lb{1105}{455}{APE0741}
\RG{1135}{1150}{cW}\Lb{1140}{410}{APE0743}
\RG{1215}{1240}{cW}\Lb{1225}{410}{APE0746}
\RG{1285}{1300}{cW}\Lb{1285}{455}{APE0747}
\RG{1320}{1355}{cW}\Lb{1330}{410}{APE0749}
\RG{1380}{1415}{cW}\Lb{1380}{440}{APE0750}
\RG[\drl]{1400}{1415}{cW}\Lb{1412}{470}{APE0752}
\RG{1420}{1455}{cW}\Lb{1462}{410}{APE0753}
\RG{1465}{1480}{cW}\Lb{1482}{455}{APE0755}
\end{scope}
\end{tikzpicture}
\end{document}
